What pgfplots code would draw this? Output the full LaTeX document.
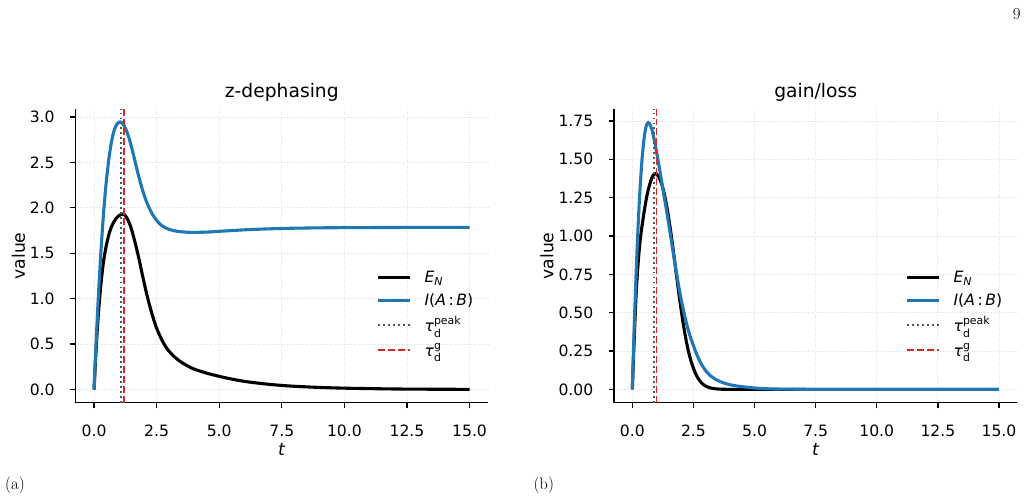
\documentclass[border=0pt]{standalone}
\usepackage{fontspec}
\usepackage{amsmath}
\usepackage{pgfplots}
\pgfplotsset{compat=1.18}

\newfontfamily\dv{DejaVu Sans}
\definecolor{mplblue}{HTML}{1F77B4}
\definecolor{mplred}{HTML}{D62728}
\definecolor{mplgray}{HTML}{555555}

\newcommand\ticksize{\dv\fontsize{15.6pt}{18.7pt}\selectfont}
\newcommand\labelsize{\dv\fontsize{17.2pt}{20.6pt}\selectfont}
\newcommand\titlesize{\dv\fontsize{18.7pt}{22.4pt}\selectfont}

% E_N and I(A:B) for the z-dephasing channel
\pgfplotstableread{
t EN MI
0.00 0.000 0.000
0.05 0.280 0.326
0.10 0.530 0.628
0.15 0.750 0.911
0.20 0.930 1.172
0.25 1.090 1.412
0.30 1.230 1.632
0.35 1.350 1.832
0.40 1.450 2.013
0.45 1.530 2.176
0.50 1.600 2.321
0.60 1.715 2.559
0.70 1.795 2.734
0.80 1.850 2.851
0.90 1.890 2.917
1.00 1.915 2.943
1.05 1.923 2.945
1.10 1.928 2.940
1.15 1.930 2.927
1.20 1.927 2.905
1.30 1.895 2.845
1.40 1.840 2.765
1.50 1.760 2.665
1.60 1.660 2.555
1.70 1.550 2.440
1.80 1.430 2.330
1.90 1.300 2.230
2.00 1.175 2.140
2.10 1.055 2.065
2.20 0.945 2.000
2.30 0.845 1.945
2.40 0.755 1.900
2.50 0.675 1.862
2.60 0.610 1.830
2.70 0.550 1.806
2.80 0.500 1.788
2.90 0.455 1.774
3.00 0.420 1.763
3.20 0.362 1.748
3.40 0.317 1.739
3.60 0.281 1.734
3.80 0.251 1.731
4.00 0.225 1.730
4.50 0.180 1.733
5.00 0.145 1.742
5.50 0.115 1.750
6.00 0.090 1.758
6.50 0.072 1.764
7.00 0.057 1.769
7.50 0.045 1.773
8.00 0.036 1.776
9.00 0.023 1.780
10.00 0.015 1.782
11.00 0.010 1.783
12.00 0.006 1.784
13.00 0.004 1.785
14.00 0.003 1.785
15.00 0.002 1.785
}\zdeph

% E_N and I(A:B) for the gain/loss channel
\pgfplotstableread{
t EN MI
0.00 0.000 0.000
0.05 0.220 0.269
0.10 0.420 0.515
0.15 0.605 0.737
0.20 0.740 0.936
0.25 0.850 1.112
0.30 0.940 1.265
0.35 1.010 1.396
0.40 1.070 1.505
0.45 1.125 1.593
0.50 1.175 1.659
0.55 1.222 1.705
0.60 1.265 1.731
0.65 1.300 1.739
0.70 1.330 1.733
0.80 1.380 1.695
0.90 1.405 1.625
0.95 1.408 1.584
1.00 1.403 1.540
1.10 1.380 1.450
1.20 1.340 1.355
1.30 1.280 1.260
1.40 1.200 1.165
1.50 1.105 1.065
1.60 0.995 0.965
1.70 0.875 0.865
1.80 0.750 0.765
1.90 0.630 0.670
2.00 0.515 0.585
2.10 0.410 0.510
2.20 0.320 0.440
2.30 0.245 0.380
2.40 0.185 0.330
2.50 0.137 0.285
2.60 0.099 0.242
2.70 0.070 0.205
2.80 0.048 0.172
2.90 0.032 0.145
3.00 0.021 0.122
3.20 0.009 0.088
3.40 0.0035 0.066
3.60 0.0012 0.050
3.80 0.0004 0.039
4.00 0.0001 0.030
4.40 0.000 0.019
5.00 0.000 0.009
5.50 0.000 0.004
6.00 0.000 0.002
7.00 0.000 0.0005
8.00 0.000 0.0001
15.00 0.000 0.000
}\gainloss

\pgfplotsset{
  panel/.style={
    scale only axis,
    height=293.4pt,
    xmin=-0.75, xmax=15.75,
    axis x line*=bottom, axis y line*=left,
    axis line style={-, line width=1.25pt},
    tick align=outside,
    major tick length=5.5pt,
    tick style={line width=1.25pt, black},
    xtick={0,2.5,...,15},
    grid=major,
    grid style={dotted, line width=0.8pt, black!12},
    tick label style={font=\ticksize},
    /pgf/number format/assume math mode=true,
    /pgf/number format/fixed, /pgf/number format/fixed zerofill,
    xticklabel style={/pgf/number format/precision=1, anchor=base, yshift=-27.8pt, inner sep=0pt},
    yticklabel style={anchor=east, xshift=-15pt, inner sep=0pt},
    xlabel={\textit{t}},
    ylabel={value},
    every axis x label/.style={at={(axis description cs:0.5,-0.1783)}, anchor=base, font=\labelsize},
    every axis title/.style={at={(axis description cs:0.5,1)}, anchor=base, yshift=11.8pt, font=\titlesize},
    legend style={draw=none, fill=none, font=\ticksize, anchor=north west, inner sep=0pt, row sep=5.5pt,
      /tikz/every odd column/.append style={column sep=11pt}},
    legend cell align=left,
    legend image code/.code={\draw[##1] (0pt,0pt) -- (31.6pt,0pt);},
  },
  enline/.style={black, line width=3.1pt, smooth, tension=0.4},
  miline/.style={mplblue, line width=3.1pt, smooth, tension=0.4},
  pkline/.style={mplgray, line width=1.87pt, dash pattern=on 1.87pt off 3.1pt},
  gline/.style={mplred, line width=1.87pt, dash pattern=on 6.9pt off 3pt},
}

\begin{document}
\begin{tikzpicture}[x=1pt,y=1pt]
\useasboundingbox (0,0) rectangle (1027,501);

\begin{axis}[panel, at={(75.3pt,98.3pt)}, anchor=south west, width=413pt,
  ymin=-0.145, ymax=3.085, ytick={0,0.5,...,3},
  yticklabel style={/pgf/number format/precision=1},
  every axis y label/.style={at={(axis description cs:-0.1218,0.5)}, anchor=base, rotate=90, font=\labelsize},
  legend style={at={(0.7298,0.4557)}},
  title={z-dephasing}]
\addplot[enline] table[x=t, y=EN] {\zdeph};
\addlegendentry{$\text{\itshape E}_{\text{\itshape N}}$}
\addplot[miline] table[x=t, y=MI] {\zdeph};
\addlegendentry{\textit{I}(\textit{A}\,:\,\textit{B})}
\addplot[pkline] coordinates {(1.09,-0.145) (1.09,3.085)};
\addlegendentry{$\text{\itshape τ}^{\text{peak}}_{\text{d}}$}
\addplot[gline] coordinates {(1.20,-0.145) (1.20,3.085)};
\addlegendentry{$\text{\itshape τ}^{\text{g}}_{\text{d}}$}
\end{axis}

\begin{axis}[panel, at={(614pt,98.3pt)}, anchor=south west, width=403.3pt,
  ymin=-0.087, ymax=1.826, ytick={0,0.25,...,1.75},
  yticklabel style={/pgf/number format/precision=2},
  every axis y label/.style={at={(axis description cs:-0.1505,0.5)}, anchor=base, rotate=90, font=\labelsize},
  legend style={at={(0.7233,0.4557)}},
  title={gain/loss}]
\addplot[enline] table[x=t, y=EN] {\gainloss};
\addlegendentry{$\text{\itshape E}_{\text{\itshape N}}$}
\addplot[miline] table[x=t, y=MI] {\gainloss};
\addlegendentry{\textit{I}(\textit{A}\,:\,\textit{B})}
\addplot[pkline] coordinates {(0.89,-0.087) (0.89,1.826)};
\addlegendentry{$\text{\itshape τ}^{\text{peak}}_{\text{d}}$}
\addplot[gline] coordinates {(0.99,-0.087) (0.99,1.826)};
\addlegendentry{$\text{\itshape τ}^{\text{g}}_{\text{d}}$}
\end{axis}

\node[anchor=base west, inner sep=0pt, font=\fontsize{16.8pt}{20pt}\selectfont] at (5,11.8) {(a)};
\node[anchor=base west, inner sep=0pt, font=\fontsize{16.8pt}{20pt}\selectfont] at (533.3,11.8) {(b)};
\node[anchor=base east, inner sep=0pt, font=\fontsize{16.8pt}{20pt}\selectfont] at (1020.7,481) {9};
\end{tikzpicture}
\end{document}
